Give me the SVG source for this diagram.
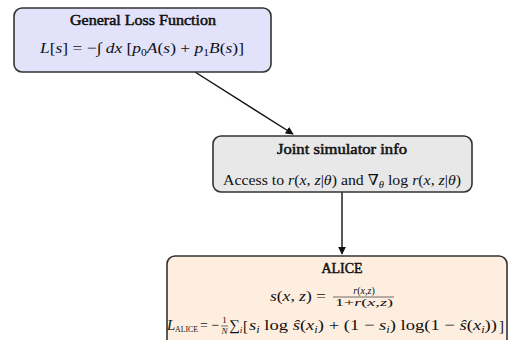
<svg xmlns="http://www.w3.org/2000/svg" width="512" height="340" viewBox="0 0 512 340">
  <defs>
    <marker id="arrow" viewBox="0 0 10 10" refX="9" refY="5" markerWidth="8" markerHeight="8" orient="auto" markerUnits="userSpaceOnUse">
      <path d="M0,0 L10,5 L0,10 Z" fill="#111"/>
    </marker>
    <style>
      .box { stroke: #333; stroke-width: 1.6; }
      .title { font-family: "Liberation Serif", "DejaVu Serif", serif; font-size: 14px; fill: #111; stroke: #111; stroke-width: 0.5; text-anchor: middle; }
      .math { font-family: "Liberation Serif", "DejaVu Serif", serif; font-size: 15px; fill: #111; }
      .mid { text-anchor: middle; }
      .it { font-style: italic; }
      .small { font-size: 10px; }
      .tiny { font-size: 9px; }
      .edge { stroke: #111; stroke-width: 1.4; fill: none; }
    </style>
  </defs>

  <g id="connectors">
    <line class="edge" x1="195" y1="72" x2="293" y2="134" marker-end="url(#arrow)"/>
    <line class="edge" x1="342" y1="192" x2="342" y2="254" marker-end="url(#arrow)"/>
  </g>

  <g id="general-loss">
    <rect class="box" x="14" y="8" width="257" height="64" rx="8" fill="#e2e2fb"/>
    <text class="title" x="143" y="25" textLength="146" lengthAdjust="spacingAndGlyphs">General Loss Function</text>
    <text class="math mid" x="142" y="53" textLength="204" lengthAdjust="spacingAndGlyphs"><tspan class="it">L</tspan>[<tspan class="it">s</tspan>] = −∫ <tspan class="it">dx</tspan> [<tspan class="it">p</tspan><tspan class="small" dy="3">0</tspan><tspan class="it" dy="-3">A</tspan>(<tspan class="it">s</tspan>) + <tspan class="it">p</tspan><tspan class="small" dy="3">1</tspan><tspan class="it" dy="-3">B</tspan>(<tspan class="it">s</tspan>)]</text>
  </g>

  <g id="joint-simulator">
    <rect class="box" x="213" y="136" width="259" height="56" rx="8" fill="#e8e8e8"/>
    <text class="title" x="342" y="154" textLength="130" lengthAdjust="spacingAndGlyphs">Joint simulator info</text>
    <text class="math mid" x="342" y="185" textLength="238" lengthAdjust="spacingAndGlyphs">Access to <tspan class="it">r</tspan>(<tspan class="it">x</tspan>, <tspan class="it">z</tspan>|<tspan class="it">θ</tspan>) and ∇<tspan class="small it" dy="3">θ</tspan><tspan dy="-3"> log </tspan><tspan class="it">r</tspan>(<tspan class="it">x</tspan>, <tspan class="it">z</tspan>|<tspan class="it">θ</tspan>)</text>
  </g>

  <g id="alice">
    <rect class="box" x="167" y="256" width="340" height="92" rx="8" fill="#fdeee0"/>
    <text class="title" x="342" y="273" textLength="41" lengthAdjust="spacingAndGlyphs">ALICE</text>
    <!-- s(x,z) = r / (1 + r) -->
    <text class="math" x="270" y="301" textLength="56" lengthAdjust="spacingAndGlyphs"><tspan class="it">s</tspan>(<tspan class="it">x</tspan>, <tspan class="it">z</tspan>) =</text>
    <text class="math small mid" x="364" y="294"><tspan class="it">r</tspan>(<tspan class="it">x</tspan>,<tspan class="it">z</tspan>)</text>
    <line x1="333" y1="297" x2="394" y2="297" stroke="#111" stroke-width="0.6"/>
    <text class="math small mid" x="364" y="306" textLength="58" lengthAdjust="spacingAndGlyphs">1+<tspan class="it">r</tspan>(<tspan class="it">x</tspan>,<tspan class="it">z</tspan>)</text>
    <!-- L_ALICE = -1/N sum_i [ ... ] -->
    <text class="math it" x="167" y="330">L</text>
    <text class="math tiny" x="175" y="332" textLength="23" lengthAdjust="spacingAndGlyphs">ALICE</text>
    <text class="math" x="200" y="330" textLength="19" lengthAdjust="spacingAndGlyphs">= −</text>
    <text class="math tiny mid" x="224.5" y="323">1</text>
    <line x1="221" y1="326" x2="228" y2="326" stroke="#111" stroke-width="0.6"/>
    <text class="math tiny it mid" x="224.5" y="334">N</text>
    <text class="math" x="229" y="330">∑<tspan class="tiny it" dy="3">i</tspan></text>
    <text class="math" x="243" y="331" font-size="18">[</text>
    <text class="math" x="249" y="330" textLength="248" lengthAdjust="spacingAndGlyphs"><tspan class="it">s</tspan><tspan class="small it" dy="3">i</tspan><tspan dy="-3"> log </tspan><tspan class="it">ŝ</tspan>(<tspan class="it">x</tspan><tspan class="small it" dy="3">i</tspan><tspan dy="-3">) + (1 − </tspan><tspan class="it">s</tspan><tspan class="small it" dy="3">i</tspan><tspan dy="-3">) log(1 − </tspan><tspan class="it">ŝ</tspan>(<tspan class="it">x</tspan><tspan class="small it" dy="3">i</tspan><tspan dy="-3">))</tspan></text>
    <text class="math" x="499" y="331" font-size="18">]</text>
  </g>
</svg>
